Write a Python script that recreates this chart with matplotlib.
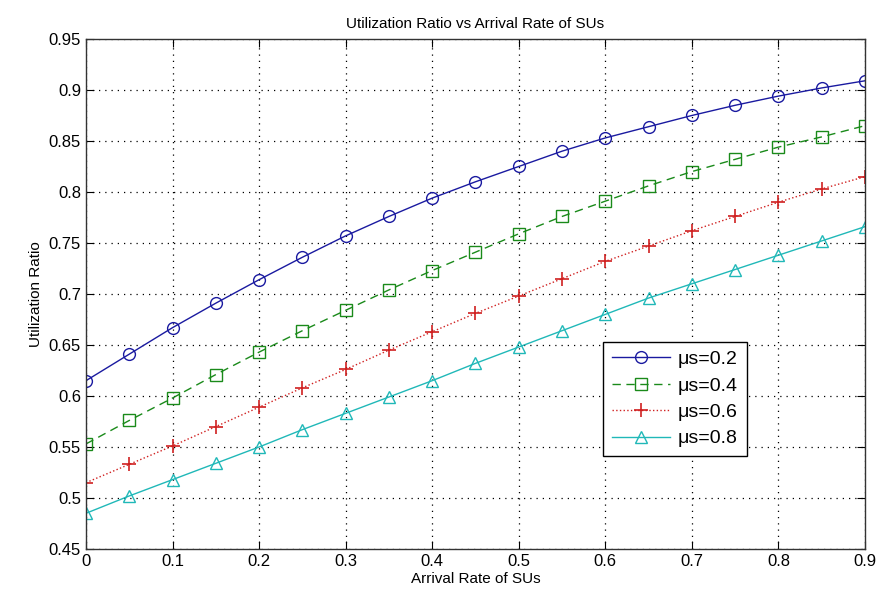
import matplotlib
matplotlib.use("Agg")
import matplotlib.pyplot as plt
import numpy as np

plt.rcParams['font.family'] = ['Liberation Sans', 'DejaVu Sans']

x = [0, 0.05, 0.1, 0.15, 0.2, 0.25, 0.3, 0.35, 0.4, 0.45, 0.5, 0.55, 0.6, 0.65, 0.7, 0.75, 0.8, 0.85, 0.9]
mu02 = [0.615, 0.641, 0.667, 0.691, 0.714, 0.736, 0.757, 0.776, 0.794, 0.810, 0.825, 0.840, 0.853, 0.864, 0.875, 0.885, 0.894, 0.902, 0.909]
mu04 = [0.553, 0.576, 0.598, 0.621, 0.643, 0.664, 0.684, 0.704, 0.723, 0.741, 0.759, 0.776, 0.791, 0.806, 0.820, 0.832, 0.844, 0.854, 0.865]
mu06 = [0.515, 0.533, 0.551, 0.570, 0.589, 0.608, 0.626, 0.645, 0.663, 0.681, 0.698, 0.715, 0.732, 0.747, 0.762, 0.776, 0.790, 0.803, 0.815]
mu08 = [0.485, 0.502, 0.518, 0.534, 0.550, 0.567, 0.583, 0.599, 0.615, 0.632, 0.648, 0.664, 0.680, 0.696, 0.710, 0.724, 0.738, 0.752, 0.766]
labels = ['μs=0.2', 'μs=0.4', 'μs=0.6', 'μs=0.8']
xticks = [0, 0.1, 0.2, 0.3, 0.4, 0.5, 0.6, 0.7, 0.8, 0.9]
yticks = [0.45, 0.5, 0.55, 0.6, 0.65, 0.7, 0.75, 0.8, 0.85, 0.9, 0.95]

fig = plt.figure(figsize=(8.81, 6.11), dpi=100)
ax = fig.add_axes([0.0976, 0.1015, 0.8842, 0.8347])

ax.plot(x, mu02, '-', color='#1a1aa0', marker='o', mfc='none', ms=8.5, lw=1, mew=1, label=labels[0])
ax.plot(x, mu04, color='#1a8a1a', ls=(0, (6, 4)), marker='s', mfc='none', ms=8.5, lw=1, mew=1, label=labels[1])
ax.plot(x, mu06, ':', color='#d02020', marker='+', mfc='none', ms=10, lw=1, mew=1.2, label=labels[2])
ax.plot(x, mu08, '-', color='#20b8b8', marker='^', mfc='none', ms=9, lw=1, mew=1, label=labels[3])

ax.set_xlim(0, 0.9)
ax.set_ylim(0.45, 0.95)
ax.set_xticks(xticks)
ax.set_yticks(yticks)
ax.set_xticklabels([('%g' % v) for v in xticks])
ax.set_yticklabels([('%g' % v) for v in yticks])
ax.tick_params(direction='in', top=True, right=True, labelsize=12, length=6)
ax.grid(True, linestyle=(0, (1, 4)), color='black', lw=0.9)
for s in ax.spines.values():
    s.set_linewidth(1)
    s.set_color('#333333')

ax.set_xlabel('Arrival Rate of SUs', fontsize=11, labelpad=2)
ax.set_ylabel('Utilization Ratio', fontsize=11, labelpad=4)
ax.set_title('Utilization Ratio vs Arrival Rate of SUs', fontsize=11, pad=8)

leg = ax.legend(loc='upper left', bbox_to_anchor=(0.664, 0.406), fontsize=14,
                fancybox=False, framealpha=1, edgecolor='black', borderaxespad=0,
                handlelength=3, borderpad=0.45, labelspacing=0.45, handletextpad=0.4)
leg.get_frame().set_linewidth(1)

fig.savefig('out.png', dpi=100)
